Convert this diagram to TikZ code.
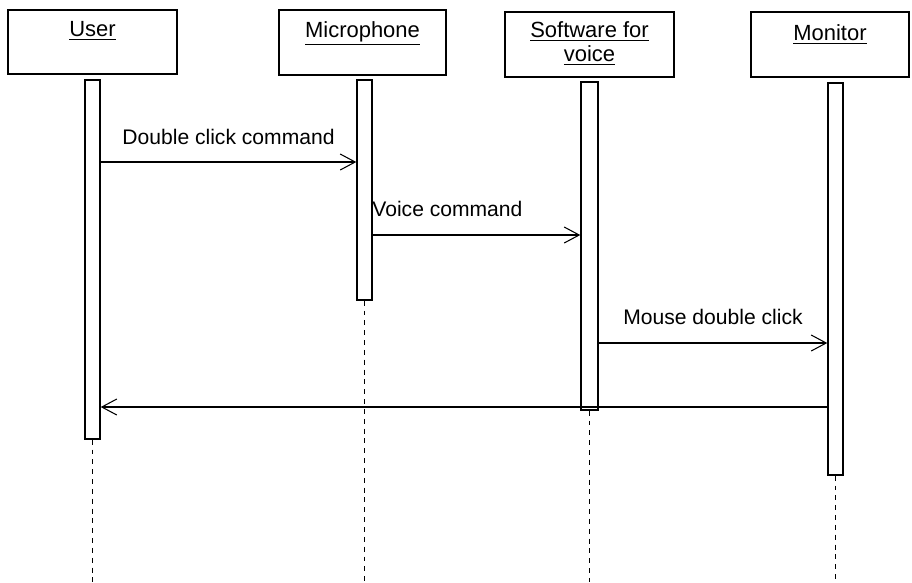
\documentclass[tikz,border=0pt]{standalone}
\usepackage{fontspec}
\setmainfont{Liberation Sans}
\usetikzlibrary{arrows.meta, fit, positioning}
\tikzset{
  actor/.style={rectangle, draw=black, line width=0.8pt, inner sep=0},
  actorname/.style={inner sep=0, anchor=north, align=center, font=\fontsize{12.5}{13.5}\selectfont},
  actbar/.style={rectangle, draw=black, line width=0.8pt, inner sep=0, fill=white},
  msg/.style={-{Straight Barb[length=3mm, width=3.2mm]}, line width=0.6pt},
  msgtext/.style={inner sep=0, font=\fontsize{12}{14}\selectfont},
  lifeline/.style={line width=0.6pt, dash pattern=on 2.8pt off 2.8pt}
}

\begin{document}
\begin{tikzpicture}[x=0.02cm, y=-0.02cm]
  \useasboundingbox (0,0) rectangle (912,582);

  % Objects
  \node[actor, fit={(8,10) (177,74)}] (user) {};
  \node[actor, fit={(279,10) (446,75)}] (mic) {};
  \node[actor, fit={(505,12) (674,77)}] (soft) {};
  \node[actor, fit={(751,12) (909,77)}] (mon) {};
  \node[actorname] (usertext) at ([yshift=-0.24cm]user.north) {\underline{User}};
  \node[actorname] (mictext) at ([yshift=-0.24cm]mic.north) {\underline{Microphone}};
  \node[actorname] (softtext) at ([yshift=-0.2cm]soft.north) {\underline{Software for}\\\underline{voice}};
  \node[actorname] (montext) at ([yshift=-0.26cm]mon.north) {\underline{Monitor}};

  % Activation bars
  \node[actbar, fit={(85,80) (100,439)}] (userbar) {};
  \node[actbar, fit={(357,80) (372,300)}] (micbar) {};
  \node[actbar, fit={(581,82) (598,410)}] (softbar) {};
  \node[actbar, fit={(828,83) (843,475)}] (monbar) {};

  % Lifelines
  \coordinate (userend) at (userbar.south |- 0,582);
  \coordinate (micend) at (micbar.south |- 0,582);
  \coordinate (softend) at (softbar.south |- 0,582);
  \coordinate (monend) at (monbar.south |- 0,582);
  \draw[lifeline] (userbar.south) -- (userend);
  \draw[lifeline] (micbar.south) -- (micend);
  \draw[lifeline] (softbar.south) -- (softend);
  \draw[lifeline] (monbar.south) -- (monend);

  % Messages
  \draw[msg] (userbar.east |- 0,162) -- node[msgtext, above=9.6pt] (m1) {Double click command} (micbar.west |- 0,162);
  \draw[msg] (micbar.east |- 0,235) -- node[msgtext, above=10pt, pos=0.36] (m2) {Voice command} (softbar.west |- 0,235);
  \draw[msg] (softbar.east |- 0,343) -- node[msgtext, above=10pt] (m3) {Mouse double click} (monbar.west |- 0,343);
  \draw[msg] (monbar.west |- 0,407) -- (userbar.east |- 0,407);
\end{tikzpicture}
\end{document}
